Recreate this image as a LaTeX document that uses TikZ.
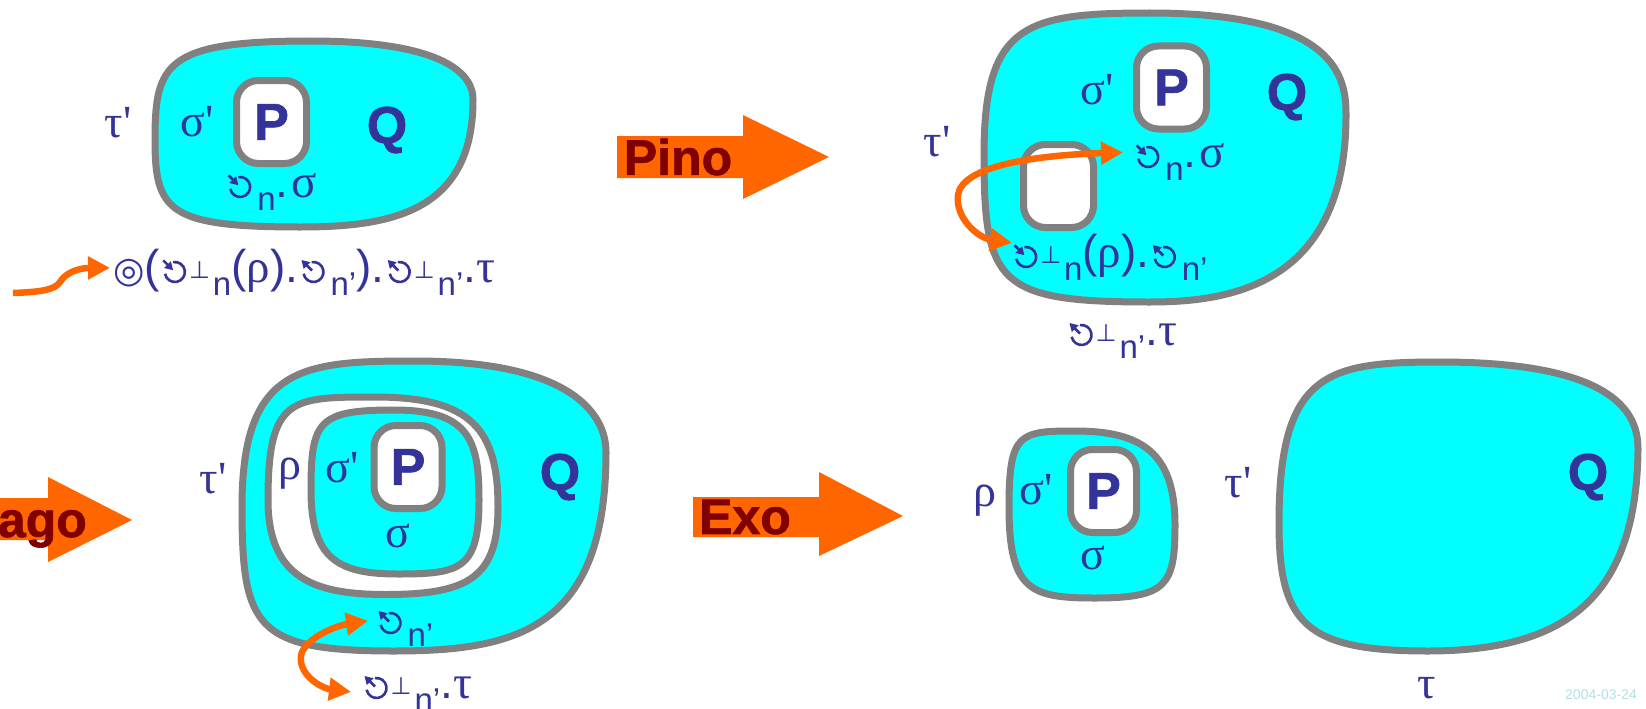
\documentclass[tikz,border=0pt]{standalone}
\usepackage{fontspec}
\setmainfont{Liberation Sans}
\newfontfamily\grkfont{Liberation Serif}
\newfontfamily\dejafont{DejaVu Sans}
\newfontfamily\heavyfont[BoldFeatures={FakeBold=1.2}]{Liberation Sans}
\usepackage{xcolor}
\usepackage{tikz}
\usetikzlibrary{arrows.meta}

\definecolor{cyanfill}{RGB}{0,255,255}
\definecolor{blobgray}{RGB}{128,128,128}
\definecolor{txtblue}{RGB}{51,51,153}
\definecolor{orng}{RGB}{255,102,0}
\definecolor{darkred}{RGB}{128,0,0}
\definecolor{datecol}{RGB}{176,224,230}

\newcommand{\gin}{\hspace{2pt}\tikz[baseline=0pt,x=1pt,y=1pt]{\draw[txtblue,line width=2.6pt] (10.5,10) ++(190:10) arc[start angle=190,end angle=460,radius=10];\draw[txtblue,line width=2.6pt,-{Triangle[length=8pt,width=9pt]}] (10.5,10) ++(135:16.5) -- ++(-45:14);}\hspace{2pt}}
\newcommand{\gout}{\hspace{2pt}\tikz[baseline=0pt,x=1pt,y=1pt]{\draw[txtblue,line width=2.6pt] (10.5,10) ++(190:10) arc[start angle=190,end angle=460,radius=10];\draw[txtblue,line width=2.6pt,-{Triangle[length=8pt,width=9pt]}] (10.5,10) ++(135:2) -- ++(135:15);}\hspace{2pt}}
\newcommand{\lo}[1]{\raisebox{-13pt}{\fontsize{33}{33}\selectfont\hspace{3pt}#1}}
\newcommand{\perpsup}{\raisebox{4pt}{\fontsize{24}{24}\dejafont ⊥}}
\newcommand{\gk}[1]{{\grkfont\fontsize{47}{47}\selectfont #1}}

\begin{document}
\begin{tikzpicture}[
    x=1pt, y=-1pt,
    blob/.style={draw=blobgray, line width=7pt, fill=cyanfill},
    blob_white/.style={blob, fill=white},
    pbox/.style={draw=blobgray, line width=7pt, fill=white, rounded corners=22pt, minimum width=70pt, minimum height=83pt, inner sep=0pt, text=txtblue, font=\heavyfont\bfseries\fontsize{52}{52}\selectfont},
    greek_lbl/.style={inner sep=0pt, text=txtblue, font=\grkfont\fontsize{46}{46}\selectfont},
    big_lbl/.style={inner sep=0pt, text=txtblue, font=\heavyfont\bfseries\fontsize{52}{52}\selectfont},
    fml/.style={inner sep=0pt, anchor=base west, text=txtblue, font=\fontsize{46}{46}\selectfont},
    act_arrow/.style={fill=orng},
    act_txt/.style={inner sep=0pt, text=darkred, font=\heavyfont\bfseries\fontsize{50}{50}\selectfont},
    orange_arr/.style={draw=orng, line width=6.5pt, -{Triangle[length=22pt,width=22pt]}},
    orange_dbl/.style={draw=orng, line width=6.5pt, {Triangle[length=22pt,width=22pt]}-{Triangle[length=22pt,width=22pt]}}
]
\useasboundingbox (0,0) rectangle (1646,709);

\draw [blob] (155,140) .. controls (155,64) and (165,41) .. (310,41) .. controls (470,41) and (473,88) .. (473,100) .. controls (473,213) and (389,227) .. (300,227) .. controls (168,227) and (155,211) .. cycle;
\node (p1) [pbox] at (271.5,122) {P};
\node (tau1) [greek_lbl] at (118,123) {τ\textquotesingle};
\node (sig1) [greek_lbl] at (197,122) {σ\textquotesingle};
\node (q1) [big_lbl] at (387,130) {Q};
\node (in1) [fml] at (225,197) {\gin\lo{n}.\kern3pt\gk{σ}};
\node (fml1) [fml] at (113,282) {{\dejafont\fontsize{36}{36}\selectfont ◎}(\gin\perpsup\lo{n}(\gk{ρ}).\gout\lo{n’}).\gout\perpsup\lo{n’}.\gk{τ}};
\coordinate (sq_start) at (13,293);
\draw [orange_arr] (sq_start) .. controls (40,292) and (55,290) .. (60,282) .. controls (66,272) and (80,268) .. ([xshift=-3pt,yshift=4pt]fml1.west);

\fill [act_arrow] (617,136) -- (743,136) -- (743,115) -- (829,157) -- (743,199) -- (743,178) -- (617,178) -- cycle;
\node (pino) [act_txt] at (678,157) {Pino};

\draw [blob] (984,155) .. controls (984,24) and (1025,13) .. (1150,13) .. controls (1340,13) and (1346,80) .. (1346,115) .. controls (1346,287) and (1227,302) .. (1150,302) .. controls (998,302) and (984,284) .. cycle;
\node (p2) [pbox] at (1171.5,87.5) {P};
\node (hole2) [pbox] at (1058.5,186) {};
\node (tau2) [greek_lbl] at (937,142) {τ\textquotesingle};
\node (sig2) [greek_lbl] at (1097,90) {σ\textquotesingle};
\node (q2) [big_lbl] at (1287,97) {Q};
\node (in2) [fml] at (1133,167) {\gin\lo{n}.\kern3pt\gk{σ}};
\node (mid2) [fml] at (1011,267) {\gin\perpsup\lo{n}(\gk{ρ}).\gout\lo{n’}};
\node (bot2) [fml] at (1066,345) {\gout\perpsup\lo{n’}.\gk{τ}};
\draw [orange_dbl] ([xshift=1pt,yshift=14pt]mid2.west) .. controls (978,238) and (955,218) .. (958,195) .. controls (962,165) and (1040,155) .. ([xshift=-10pt,yshift=9pt]in2.west);

\fill [act_arrow] (-130,498) -- (48,498) -- (48,477) -- (132,520) -- (48,562) -- (48,540) -- (-130,540) -- cycle;
\node (phago) [act_txt, anchor=base east] at (87,537) {Phago};

\draw [blob] (242,507) .. controls (242,366) and (302,361) .. (415,361) .. controls (600,361) and (606,435) .. (606,452) .. controls (606,629) and (517,651) .. (394,651) .. controls (255,651) and (242,627) .. cycle;
\draw [blob_white] (268,500) .. controls (268,397) and (291,397) .. (375,397) .. controls (472,397) and (498,430) .. (498,507) .. controls (498,577) and (469,594.5) .. (386,594.5) .. controls (317,594.5) and (268,580) .. cycle;
\draw [blob] (311,490) .. controls (311,421) and (318,410) .. (394,410) .. controls (470,410) and (479,441) .. (479,500) .. controls (479,569) and (461,574) .. (398,574) .. controls (338,574) and (311,559) .. cycle;
\node (p3) [pbox, minimum width=68pt] at (408,467) {P};
\node (tau3) [greek_lbl] at (213,479) {τ\textquotesingle};
\node (rho3) [greek_lbl] at (290,474) {ρ};
\node (sig3) [greek_lbl] at (342,468) {σ\textquotesingle};
\node (sigb3) [greek_lbl] at (398,536) {σ};
\node (q3) [big_lbl] at (560,477) {Q};
\node (n3) [fml] at (375,633) {\gout\lo{n’}};
\node (bot3) [fml] at (361,698) {\gout\perpsup\lo{n’}.\gk{τ}};
\draw [orange_dbl] ([xshift=-10pt,yshift=1pt]bot3.west) .. controls (320,688) and (295,672) .. (302,652) .. controls (310,635) and (340,625) .. ([xshift=-7pt,yshift=7pt]n3.west);

\fill [act_arrow] (693,497) -- (819,497) -- (819,472) -- (903,516) -- (819,556) -- (819,537) -- (693,537) -- cycle;
\node (exo) [act_txt] at (745,517) {Exo};

\draw [blob] (1009,507) .. controls (1009,433) and (1019,431) .. (1075,431) .. controls (1142,431) and (1175,453) .. (1175,525) .. controls (1175,585) and (1167,598) .. (1095,598) .. controls (1031,598) and (1009,591) .. cycle;
\node (p4) [pbox, minimum width=66pt] at (1103.5,491) {P};
\node (rho4) [greek_lbl] at (985,501) {ρ};
\node (sig4) [greek_lbl] at (1036,490) {σ\textquotesingle};
\node (sigb4) [greek_lbl] at (1093,558) {σ};

\draw [blob] (1279,523) .. controls (1279,372) and (1327,362) .. (1440,362) .. controls (1630,362) and (1638,423) .. (1638,450) .. controls (1636,600) and (1564,651) .. (1427,651) .. controls (1304,651) and (1279,622) .. cycle;
\node (tau5) [greek_lbl] at (1238,483) {τ\textquotesingle};
\node (q5) [big_lbl] at (1588,477) {Q};
\node (taub5) [greek_lbl] at (1427,688) {τ};

\node (date) [text=datecol, font=\fontsize{14}{14}\selectfont] at (1601,695) {2004-03-24};
\end{tikzpicture}
\end{document}
